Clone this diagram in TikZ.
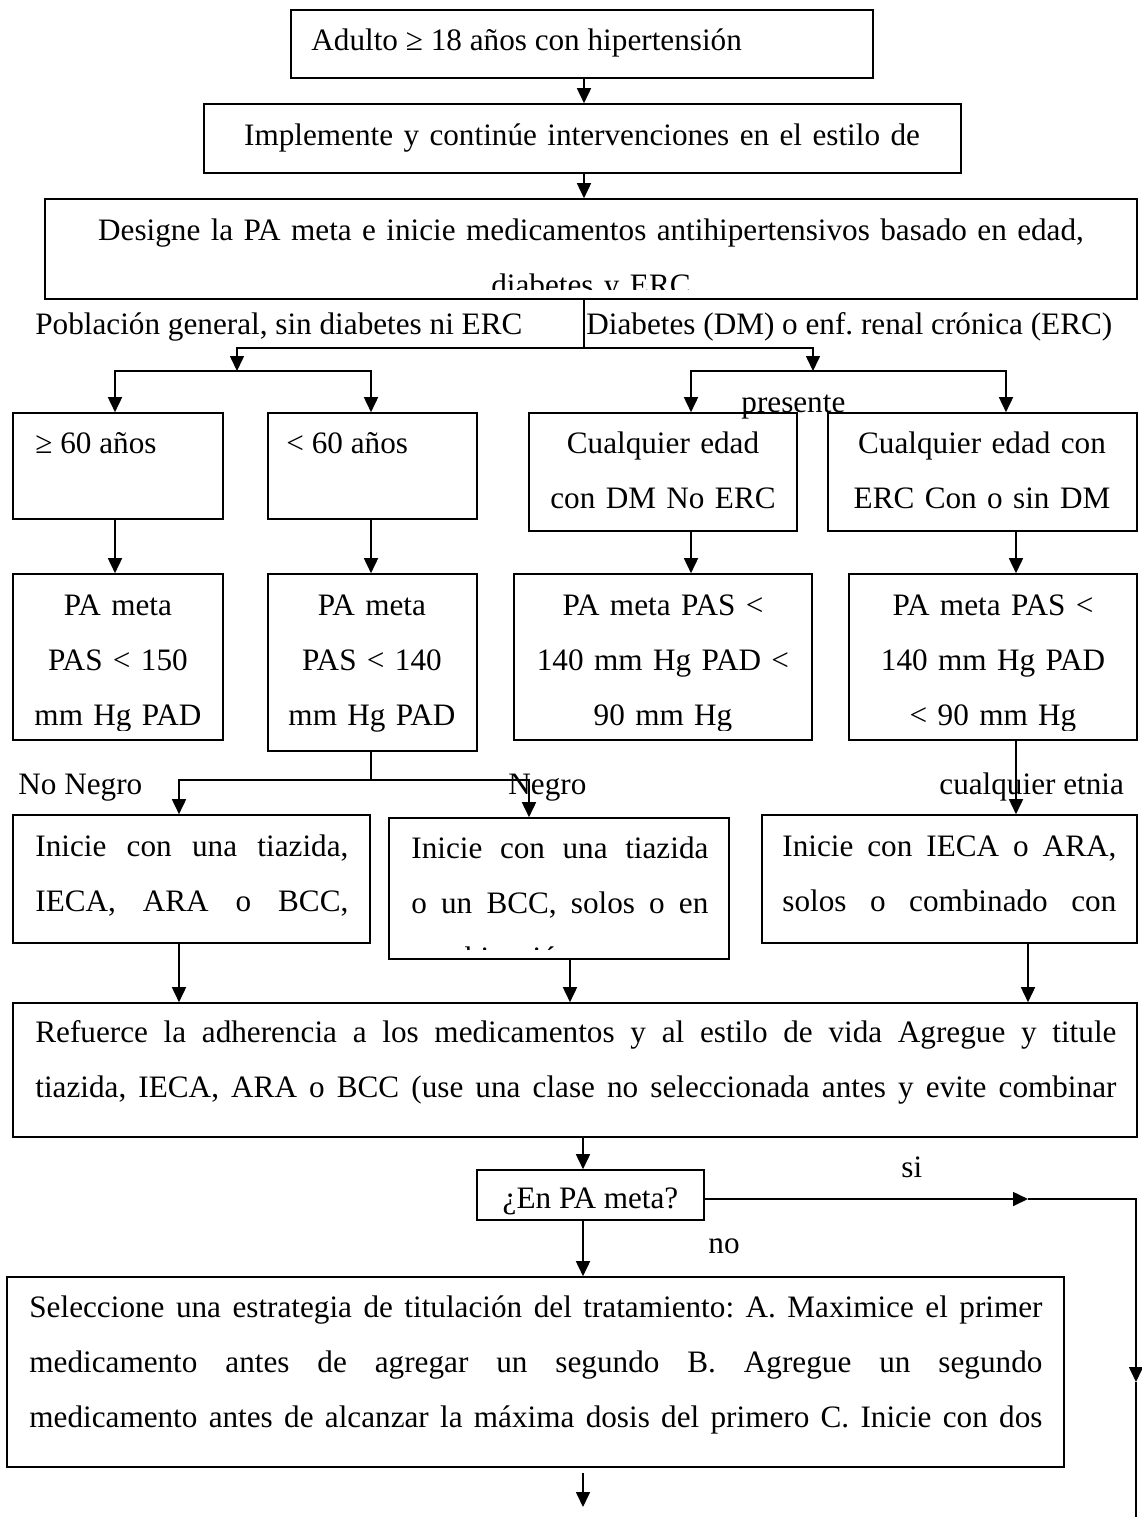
\documentclass[tikz,border=0pt]{standalone}
\usepackage{fontspec}
\setmainfont{Liberation Serif}
\usetikzlibrary{arrows.meta,fit,calc}
\hyphenpenalty=10000
\exhyphenpenalty=10000
\tolerance=10000
\frenchspacing
\newcommand\jline[2]{\leavevmode\hbox to #1{\spaceskip=0.25em plus 1fil\relax\xspaceskip=\spaceskip #2}}
\begin{document}
\begin{tikzpicture}[x=0.5pt,y=-0.5pt,
  font=\fontsize{15.6}{27.5}\selectfont,
  box/.style={draw, line width=0.8pt, inner sep=0pt},
  arr/.style={-{Triangle[length=7.5pt,width=7pt]}, line width=0.8pt},
  ln/.style={line width=0.8pt},
  txt/.style={inner sep=0pt, anchor=base west, align=left},
  ctxt/.style={inner sep=0pt, anchor=base, align=center},
  lbl/.style={inner sep=0pt, anchor=base west},
]
\useasboundingbox (0,0) rectangle (1141,1521);

% ---------- boxes ----------
\node[box, fit={(291,10) (873,78)}] (n1) {};
\node[box, fit={(204,104) (961,173)}] (n2) {};
\node[box, fit={(45,199) (1137,299)}] (n3) {};
\node[box, fit={(13,413) (223,519)}] (b1) {};
\node[box, fit={(268,413) (477,519)}] (b2) {};
\node[box, fit={(529,413) (797,531)}] (b3) {};
\node[box, fit={(828,413) (1137,531)}] (b4) {};
\node[box, fit={(13,574) (223,740)}] (c1) {};
\node[box, fit={(268,574) (477,751)}] (c2) {};
\node[box, fit={(514,574) (812,740)}] (c3) {};
\node[box, fit={(849,574) (1137,740)}] (c4) {};
\node[box, fit={(13,815) (370,943)}] (d1) {};
\node[box, fit={(389,818) (729,959)}] (d2) {};
\node[box, fit={(762,815) (1137,943)}] (d3) {};
\node[box, fit={(13,1003) (1137,1137)}] (e) {};
\node[box, fit={(477,1170) (704,1220)}] (f) {};
\node[box, fit={(7,1277) (1064,1467)}] (g) {};

% ---------- texts ----------
\node[lbl] (n1t) at (311,50) {Adulto ≥ 18 años con hipertensión};
\node[ctxt, text width=370pt] (n2t) at (582,145) {Implemente y continúe intervenciones en el estilo de};
\begin{scope}
  \clip (45,199) rectangle (1137,289);
  \node[ctxt, text width=540pt] (n3t) at (591,240) {Designe la PA meta e inicie medicamentos antihipertensivos basado en edad,\\diabetes y ERC};
\end{scope}

\node[lbl] (lpg) at (35,334) {Población general, sin diabetes ni ERC};
\node[lbl] (ldm) at (586,334) {Diabetes (DM) o enf. renal crónica (ERC)};
\node[lbl] (lpr) at (741,412) {presente};

\node[lbl] (b1t) at (35,453) {≥ 60 años};
\node[lbl] (b2t) at (286,453) {< 60 años};
\node[ctxt, text width=125pt] (b3t) at (663,453) {Cualquier edad\\con DM No ERC};
\node[ctxt, text width=145pt] (b4t) at (982,453) {Cualquier edad con\\ERC Con o sin DM};

\begin{scope}
  \clip (13,574) rectangle (223,730);
  \node[ctxt, text width=100pt] (c1t) at (118,615) {PA meta\\PAS < 150\\mm Hg PAD};
\end{scope}
\begin{scope}
  \clip (268,574) rectangle (477,741);
  \node[ctxt, text width=100pt] (c2t) at (372,615) {PA meta\\PAS < 140\\mm Hg PAD};
\end{scope}
\begin{scope}
  \clip (514,574) rectangle (812,730);
  \node[ctxt, text width=140pt] (c3t) at (663,615) {PA meta PAS <\\140 mm Hg PAD <\\90 mm Hg};
\end{scope}
\begin{scope}
  \clip (849,574) rectangle (1137,730);
  \node[ctxt, text width=135pt] (c4t) at (993,615) {PA meta PAS <\\140 mm Hg PAD\\< 90 mm Hg};
\end{scope}

\node[lbl] (lnn) at (18,794) {No Negro};
\node[lbl] (lng) at (508,794) {Negro};
\node[lbl] (lce) at (939,794) {cualquier etnia};

\begin{scope}
  \clip (13,815) rectangle (370,933);
  \node[txt, text width=160pt] (d1t) at (35,856) {\jline{156.5pt}{Inicie con una tiazida,}\\\jline{156.5pt}{IECA, ARA o BCC,}};
\end{scope}
\begin{scope}
  \clip (389,818) rectangle (729,949);
  \node[txt, text width=152pt] (d2t) at (411,858) {\jline{148.5pt}{Inicie con una tiazida}\\\jline{148.5pt}{o un BCC, solos o en}\\combinación};
\end{scope}
\begin{scope}
  \clip (762,815) rectangle (1137,933);
  \node[txt, text width=170pt] (d3t) at (782,856) {\jline{167pt}{Inicie con IECA o ARA,}\\\jline{167pt}{solos o combinado con}};
\end{scope}

\node[txt, text width=544pt] (et) at (35,1042) {\jline{540.5pt}{Refuerce la adherencia a los medicamentos y al estilo de vida Agregue y titule}\\\jline{540.5pt}{tiazida, IECA, ARA o BCC (use una clase no seleccionada antes y evite combinar}};

\node[ctxt] (ft) at (590.5,1208) {¿En PA meta?};
\node[lbl] (lsi) at (901,1177) {si};
\node[lbl] (lno) at (708,1253) {no};

\node[txt, text width=510pt] (gt) at (29,1317) {\jline{506.5pt}{Seleccione una estrategia de titulación del tratamiento: A. Maximice el primer}\\\jline{506.5pt}{medicamento antes de agregar un segundo B. Agregue un segundo}\\\jline{506.5pt}{medicamento antes de alcanzar la máxima dosis del primero C. Inicie con dos}};

% ---------- connector coordinates ----------
\coordinate (xa) at (584,0);
\coordinate (j0) at (584,348);
\coordinate (jl) at (237,371);
\coordinate (jr) at (813,371);
\coordinate (xb1) at (115,0);
\coordinate (xb2) at (371,0);
\coordinate (xb3) at (691,0);
\coordinate (xb4) at (1006,0);
\coordinate (xc4) at (1016,0);
\coordinate (jn) at (371,780);
\coordinate (xd1) at (179,0);
\coordinate (xd2) at (529,0);
\coordinate (xe2) at (570,0);
\coordinate (xe3) at (1028,0);
\coordinate (xm) at (583,0);
\coordinate (jsi) at (1136,1199);
\coordinate (sitip) at (1028,1199);
\coordinate (vtip) at (1136,1382);
\coordinate (jend) at (1136,1517);
\coordinate (gend) at (583,1507);

% ---------- connectors ----------
\draw[arr] (xa |- n1.south) -- (xa |- n2.north);
\draw[arr] (xa |- n2.south) -- (xa |- n3.north);
\draw[ln] (j0 |- n3.south) -- (j0);
\draw[arr] (j0) -| (jl);
\draw[arr] (j0) -| (jr);
\draw[arr] (jl) -| (xb1 |- b1.north);
\draw[arr] (jl) -| (xb2 |- b2.north);
\draw[arr] (jr) -| (xb3 |- b3.north);
\draw[arr] (jr) -| (xb4 |- b4.north);
\draw[arr] (xb1 |- b1.south) -- (xb1 |- c1.north);
\draw[arr] (xb2 |- b2.south) -- (xb2 |- c2.north);
\draw[arr] (xb3 |- b3.south) -- (xb3 |- c3.north);
\draw[arr] (xc4 |- b4.south) -- (xc4 |- c4.north);
\draw[ln] (xb2 |- c2.south) -- (jn);
\draw[arr] (jn) -| (xd1 |- d1.north);
\draw[arr] (jn) -| (xd2 |- d2.north);
\draw[arr] (xc4 |- c4.south) -- (xc4 |- d3.north);
\draw[arr] (xd1 |- d1.south) -- (xd1 |- e.north);
\draw[arr] (xe2 |- d2.south) -- (xe2 |- e.north);
\draw[arr] (xe3 |- d3.south) -- (xe3 |- e.north);
\draw[arr] (xm |- e.south) -- (xm |- f.north);
\draw[arr] (f.east |- jsi) -- (sitip);
\draw[arr] (sitip) -- (jsi) -- (vtip);
\draw[ln] (vtip) -- (jend);
\draw[arr] (xm |- f.south) -- (xm |- g.north);
\draw[arr] ($(xm |- g.south)+(0,5)$) -- (gend);
\end{tikzpicture}
\end{document}
